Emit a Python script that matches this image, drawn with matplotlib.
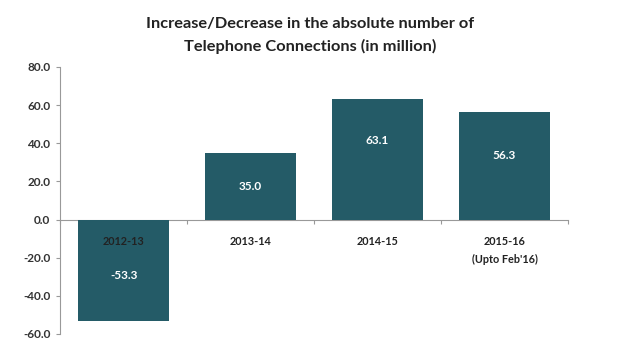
import matplotlib.pyplot as plt
import numpy as np

categories = ["2012-13", "2013-14", "2014-15", "2015-16\n(Upto Feb'16)"]
values = [-53.3, 35.0, 63.1, 56.3]
y_ticks = [-60, -40, -20, 0, 20, 40, 60, 80]

plt.rcParams['font.family'] = ['Lato', 'DejaVu Sans']

fig = plt.figure(figsize=(6.2, 3.54), dpi=100)
ax = fig.add_axes([0.097, 0.0565, 0.819, 0.7545])

x = np.arange(len(categories))
bar_color = "#245b67"
ax.bar(x, values, width=0.72, color=bar_color, zorder=2)

ax.set_xlim(-0.5, len(categories) - 0.5)
ax.set_ylim(-60, 80)
ax.set_yticks(y_ticks)
ax.set_yticklabels([f"{v:.1f}" for v in y_ticks], fontsize=8.5, fontweight="bold", color="#333333")

for s in ["top", "right"]:
    ax.spines[s].set_visible(False)
ax.spines["left"].set_color("#999999")
ax.spines["bottom"].set_color("#999999")
ax.spines["bottom"].set_position(("data", 0))
ax.spines["bottom"].set_zorder(1)
ax.tick_params(axis="y", length=3, color="#999999", pad=4)

# category boundary ticks on the zero line
ax.set_xticks(np.arange(len(categories) + 1) - 0.5)
ax.set_xticklabels([])
ax.tick_params(axis="x", length=3, color="#999999", direction="out")

for xi, cat in zip(x, categories):
    ax.text(xi, -8.5, cat, ha="center", va="top", fontsize=7.8, fontweight="bold",
            color="#222222", linespacing=1.75, zorder=3)

label_y = [-29.5, 17.5, 41.5, 33.5]
for xi, v, ly in zip(x, values, label_y):
    ax.text(xi, ly, f"{v:.1f}", ha="center", va="center", fontsize=8.5,
            fontweight="bold", color="white", zorder=3)

fig.text(0.5, 0.9, "Increase/Decrease in the absolute number of\nTelephone Connections (in million)",
         ha="center", va="center", fontsize=11.8, fontweight="bold", color="#222222", linespacing=1.7)

fig.savefig("out.png", dpi=100)
